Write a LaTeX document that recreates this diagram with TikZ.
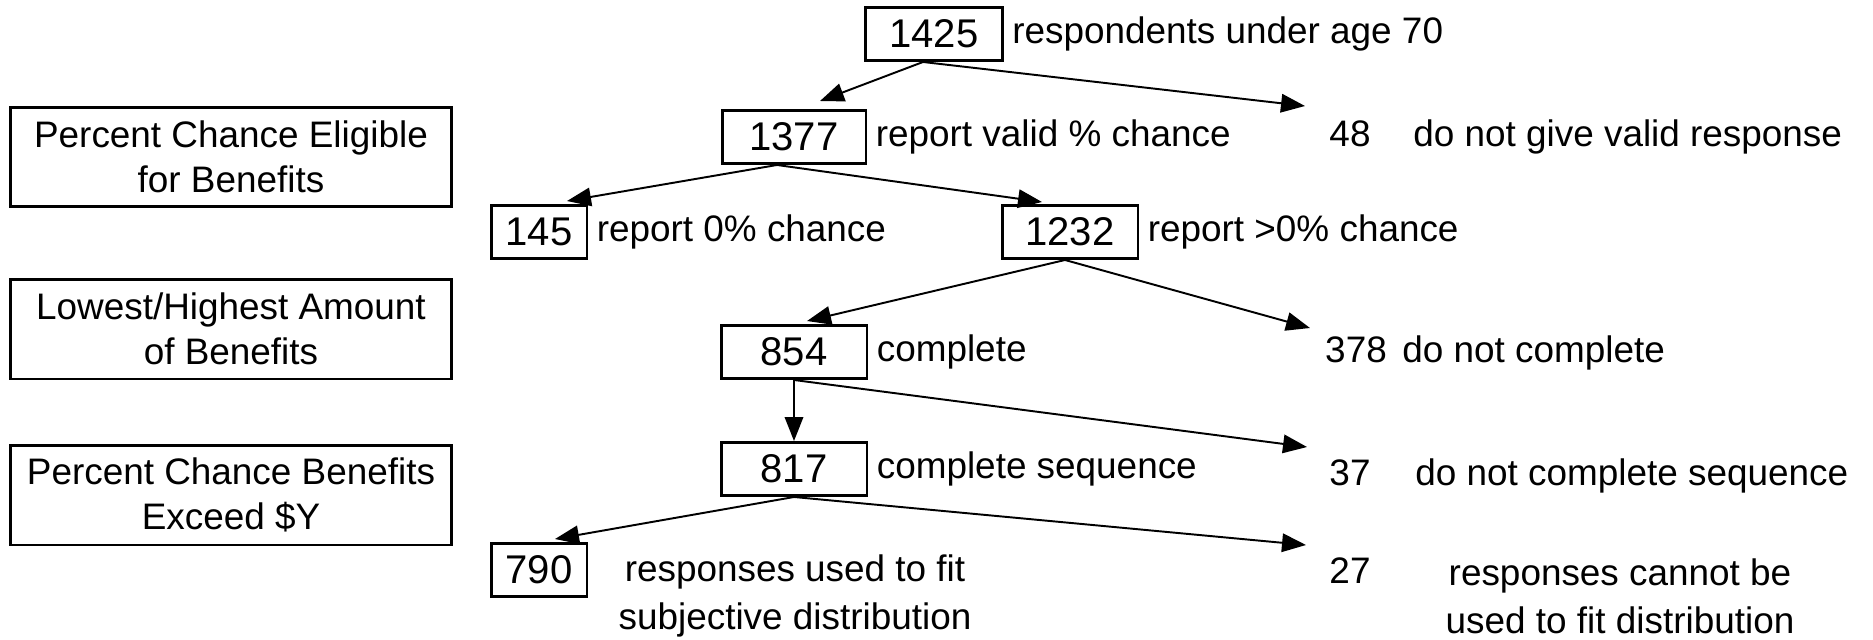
\documentclass[tikz,border=0pt]{standalone}
\usepackage{fontspec}
\setmainfont{Liberation Sans}
\usetikzlibrary{positioning,arrows.meta}

\newcommand{\lblfont}{\fontsize{21}{25.6}\selectfont}
\newcommand{\notefont}{\fontsize{21}{27.3}\selectfont}
\newcommand{\numfont}{\fontsize{22.8}{27}\selectfont}

\begin{document}
\begin{tikzpicture}[x=0.02cm,y=-0.02cm,
    numbox/.style={draw,line width=1.7pt,minimum height=1.06cm,minimum width=2.8cm,inner sep=0pt,font=\numfont},
    smallbox/.style={numbox,minimum width=1.92cm},
    stagebox/.style={draw,line width=1.7pt,minimum width=8.84cm,minimum height=2cm,align=center,font=\lblfont},
    lbl/.style={inner sep=0pt,font=\lblfont,text height=0.53cm,text depth=0.155cm,anchor=west},
    cnt/.style={inner sep=0pt,font=\lblfont,text height=0.53cm,text depth=0.155cm},
    note/.style={inner sep=0pt,font=\notefont,align=center},
    arr/.style={-{Triangle[length=0.48cm,width=0.37cm]},line width=1.1pt}]
  \useasboundingbox (0,0) rectangle (1873,639);

  \node[stagebox] (s1) at (231,157) {Percent Chance Eligible\\for Benefits};
  \node[stagebox] (s2) at (231,329) {Lowest/Highest Amount\\of Benefits};
  \node[stagebox] (s3) at (231,495) {Percent Chance Benefits\\Exceed \$Y};

  \node[numbox,minimum width=2.74cm] (n1425) at (934,34) {1425};
  \node[lbl,right=0.16cm of n1425] (l1425) {respondents under age 70};

  \node[numbox,minimum width=2.88cm] (n1377) at (794,137) {1377};
  \node[lbl,right=0.16cm of n1377] (l1377) {report valid \% chance};
  \node[cnt] (n48) at (1350,137) {48};
  \node[lbl] (l48) at (1413,137) {do not give valid response};

  \node[smallbox] (n145) at (539,232) {145};
  \node[lbl,right=0.16cm of n145] (l145) {report 0\% chance};
  \node[numbox,minimum width=2.72cm] (n1232) at (1070,232) {1232};
  \node[lbl,right=0.16cm of n1232] (l1232) {report >0\% chance};

  \node[numbox,minimum width=2.92cm] (n854) at (794,352) {854};
  \node[lbl,right=0.16cm of n854] (l854) {complete};
  \node[cnt] (n378) at (1356,353) {378};
  \node[lbl] (l378) at (1402,353) {do not complete};

  \node[numbox,minimum width=2.92cm] (n817) at (794,469) {817};
  \node[lbl,right=0.16cm of n817] (l817) {complete sequence};
  \node[cnt] (n37) at (1350,476) {37};
  \node[lbl] (l37) at (1415,476) {do not complete sequence};

  \node[smallbox] (n790) at (539,570) {790};
  \node[note] (l790) at (795,596) {responses used to fit\\subjective distribution};
  \node[cnt] (n27) at (1350,574) {27};
  \node[note] (l27) at (1620,596) {responses cannot be\\used to fit distribution};

  \draw[arr] ([xshift=-0.22cm]n1425.south) -- ([xshift=0.52cm,yshift=0.16cm]n1377.north);
  \draw[arr] ([xshift=-0.22cm]n1425.south) -- ([xshift=-0.9cm,yshift=0.62cm]n48.center);
  \draw[arr] ([xshift=-0.34cm]n1377.south) -- ([xshift=0.56cm,yshift=0.06cm]n145.north);
  \draw[arr] ([xshift=-0.34cm]n1377.south) -- ([xshift=-0.56cm,yshift=0.04cm]n1232.north);
  \draw[arr] ([xshift=-0.1cm]n1232.south) -- ([xshift=0.26cm,yshift=0.06cm]n854.north);
  \draw[arr] ([xshift=-0.1cm]n1232.south) -- ([xshift=-0.92cm,yshift=0.5cm]n378.center);
  \draw[arr] (n854.south) -- (n817.north);
  \draw[arr] (n854.south) -- ([xshift=-0.86cm,yshift=0.58cm]n37.center);
  \draw[arr] (n817.south) -- ([xshift=0.32cm,yshift=0.06cm]n790.north);
  \draw[arr] (n817.south) -- ([xshift=-0.88cm,yshift=0.58cm]n27.center);
\end{tikzpicture}
\end{document}
